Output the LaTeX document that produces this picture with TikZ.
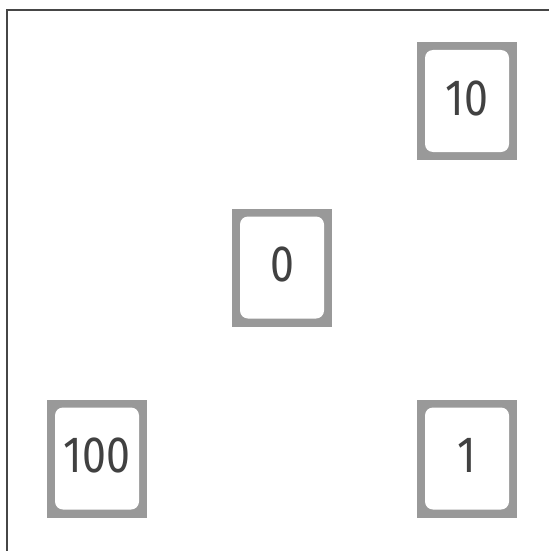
\documentclass[tikz,border=0pt]{standalone}
\usepackage{fontspec}
\newfontfamily\digfont{Fira Sans}[FakeStretch=0.84]
\definecolor{boxgray}{RGB}{153,153,153}
\definecolor{framegray}{RGB}{70,70,70}
\definecolor{txtgray}{RGB}{65,65,65}
\tikzset{
  keybox/.style={fill=boxgray, minimum width=100pt, minimum height=118pt,
    inner sep=0pt, text height=28pt, text depth=0pt, text=txtgray,
    font=\digfont\fontsize{51}{51}\selectfont,
    path picture={\fill[white, rounded corners=8pt]
      ([shift={(8pt,-8pt)}]path picture bounding box.north west) rectangle
      ([shift={(-8pt,8pt)}]path picture bounding box.south east);}},
  frameline/.style={draw=framegray, line width=2.8pt}
}
\begin{document}
\begin{tikzpicture}[x=1pt,y=-1pt]
\useasboundingbox (0,0) rectangle (549,551);
\fill[white] (0,0) rectangle (549,551);
\coordinate (fbl) at (7,551);
\coordinate (ftl) at (7,10);
\coordinate (ftr) at (549,10);
\draw[frameline] (fbl) -- (ftl) -- (ftr);
\node[keybox] (n10) at (467,101) {10};
\node[keybox] (n0) at (282,267.5) {0};
\node[keybox] (n100) at (97,458.5) {100};
\node[keybox] (n1) at (467,458.5) {1};
\end{tikzpicture}
\end{document}
